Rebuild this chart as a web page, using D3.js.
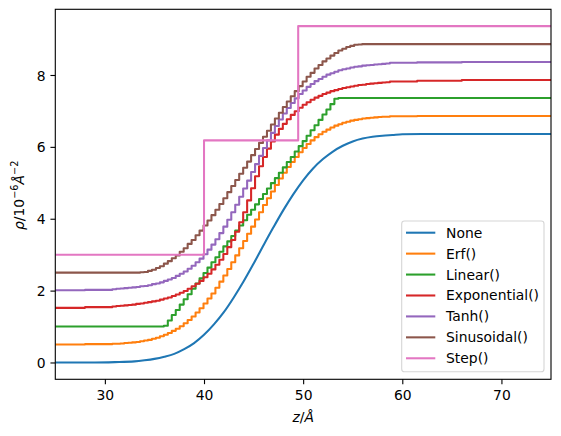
<!DOCTYPE html>
<html>
<head>
<meta charset="utf-8">
<script src="https://cdn.jsdelivr.net/npm/d3@7"></script>
<style>
  html, body { margin: 0; padding: 0; background: #ffffff; }
  svg { display: block; font-family: "DejaVu Sans", sans-serif; }
</style>
</head>
<body>
<svg id="chart" width="561" height="436"></svg>
<script>
// ---------------- DATA ----------------
const seriesLabels = ["None", "Erf()", "Linear()", "Exponential()", "Tanh()", "Sinusoidal()", "Step()"];
const seriesColors = ["#1f77b4", "#ff7f0e", "#2ca02c", "#d62728", "#9467bd", "#8c564b", "#e377c2"];
const offsets = [0, 0.5, 1.0, 1.5, 2.0, 2.5, 3.0];

const xTicks = [30, 40, 50, 60, 70];
const yTicks = [0, 2, 4, 6, 8];

// smooth profile (no interface model)
const noneZ = [25, 27, 29, 31, 33, 34, 35, 36, 37, 38, 39, 40, 41, 42, 43, 44, 45, 46, 47, 48, 49, 50,
  51, 52, 53, 54, 55, 56, 57, 58, 59, 60, 62, 65, 70, 75];
const noneRho = [0, 0, 0, 0.01, 0.03, 0.06, 0.10, 0.16, 0.24, 0.37, 0.54, 0.77, 1.06, 1.40, 1.81, 2.26, 2.75, 3.26,
  3.76, 4.24, 4.68, 5.07, 5.40, 5.66, 5.87, 6.03, 6.15, 6.23, 6.28, 6.31, 6.33, 6.35, 6.36, 6.36, 6.36, 6.36];

// left edges of the micro-slabs (shared by the stepped profiles)
const zEdges = [25, 28,
  30.75, 31.15, 31.55, 31.95, 32.35, 32.75, 33.15, 33.55, 33.95, 34.35, 34.75, 35.15, 35.55, 35.95, 36.35,
  36.75, 37.15, 37.55, 37.95, 38.35, 38.75, 39.15, 39.55, 39.95, 40.35, 40.75, 41.15, 41.55, 41.95, 42.35,
  42.75, 43.15, 43.55, 43.95, 44.35,
  44.75, 45.15, 45.55, 45.95, 46.35, 46.75, 47.15, 47.55, 47.95, 48.35, 48.75, 49.15, 49.55, 49.95, 50.35,
  50.75, 51.15, 51.55, 51.95, 52.35, 52.75, 53.15, 53.55, 53.95, 54.35, 54.75, 55.15, 55.55, 55.95, 56.35,
  56.75, 57.15, 57.55, 57.95, 58.35,
  58.75, 61.5, 66, 75];

const erfRho = [0.00, 0.01,
  0.02, 0.02, 0.03, 0.04, 0.05, 0.06, 0.07, 0.09, 0.11, 0.13, 0.16, 0.19, 0.23, 0.27, 0.32,
  0.38, 0.44, 0.51, 0.59, 0.68, 0.78, 0.89, 1.01, 1.14, 1.28, 1.42, 1.58, 1.75, 1.92, 2.10,
  2.29, 2.48, 2.68, 2.88, 3.08,
  3.28, 3.48, 3.68, 3.88, 4.07, 4.26, 4.44, 4.62, 4.78, 4.94, 5.08, 5.22, 5.35, 5.47, 5.58,
  5.68, 5.77, 5.85, 5.92, 5.98, 6.04, 6.09, 6.13, 6.17, 6.20, 6.23, 6.25, 6.27, 6.29, 6.30,
  6.31, 6.32, 6.33, 6.34, 6.34,
  6.35, 6.36, 6.36, 6.36];

const linearRho = [0, 0,
  0, 0, 0, 0, 0, 0, 0, 0, 0, 0, 0, 0, 0, 0.02, 0.17,
  0.32, 0.46, 0.61, 0.76, 0.90, 1.05, 1.20, 1.34, 1.49, 1.64, 1.79, 1.93, 2.08, 2.23, 2.37,
  2.52, 2.67, 2.81, 2.96, 3.11,
  3.25, 3.40, 3.55, 3.69, 3.84, 3.99, 4.13, 4.28, 4.43, 4.58, 4.72, 4.87, 5.02, 5.16, 5.31,
  5.46, 5.60, 5.75, 5.90, 6.04, 6.19, 6.34, 6.36, 6.36, 6.36, 6.36, 6.36, 6.36, 6.36, 6.36,
  6.36, 6.36, 6.36, 6.36, 6.36,
  6.36, 6.36, 6.36, 6.36];

const expRho = [0.02, 0.04,
  0.06, 0.07, 0.08, 0.09, 0.10, 0.11, 0.13, 0.14, 0.16, 0.18, 0.20, 0.22, 0.25, 0.28, 0.31,
  0.35, 0.39, 0.44, 0.49, 0.55, 0.62, 0.69, 0.77, 0.87, 0.97, 1.09, 1.22, 1.36, 1.52, 1.71,
  1.91, 2.14, 2.40, 2.68, 3.01,
  3.35, 3.68, 3.96, 4.22, 4.45, 4.65, 4.84, 5.00, 5.14, 5.27, 5.39, 5.49, 5.59, 5.67, 5.74,
  5.81, 5.87, 5.92, 5.97, 6.01, 6.05, 6.08, 6.11, 6.14, 6.16, 6.18, 6.20, 6.22, 6.23, 6.25,
  6.26, 6.27, 6.28, 6.29, 6.30,
  6.32, 6.34, 6.36, 6.36];

const tanhRho = [0.01, 0.02,
  0.04, 0.05, 0.06, 0.07, 0.08, 0.09, 0.10, 0.12, 0.13, 0.15, 0.18, 0.20, 0.23, 0.27, 0.31,
  0.35, 0.41, 0.47, 0.53, 0.61, 0.69, 0.79, 0.89, 1.01, 1.14, 1.28, 1.43, 1.60, 1.78, 1.97,
  2.18, 2.39, 2.61, 2.84, 3.06,
  3.30, 3.52, 3.75, 3.97, 4.18, 4.39, 4.58, 4.76, 4.93, 5.08, 5.22, 5.35, 5.47, 5.57, 5.67,
  5.75, 5.83, 5.89, 5.95, 6.01, 6.05, 6.09, 6.13, 6.16, 6.18, 6.21, 6.23, 6.24, 6.26, 6.27,
  6.28, 6.29, 6.30, 6.31, 6.32,
  6.34, 6.35, 6.36, 6.36];

const sinRho = [0, 0,
  0, 0, 0, 0, 0, 0, 0, 0.01, 0.02, 0.05, 0.08, 0.13, 0.18, 0.25, 0.32,
  0.40, 0.48, 0.58, 0.68, 0.80, 0.91, 1.04, 1.17, 1.31, 1.45, 1.60, 1.75, 1.91, 2.07, 2.24,
  2.41, 2.58, 2.75, 2.92, 3.09,
  3.27, 3.44, 3.61, 3.78, 3.95, 4.12, 4.29, 4.45, 4.61, 4.76, 4.91, 5.05, 5.19, 5.32, 5.45,
  5.56, 5.68, 5.78, 5.88, 5.96, 6.04, 6.11, 6.18, 6.23, 6.28, 6.31, 6.34, 6.35, 6.36, 6.36,
  6.36, 6.36, 6.36, 6.36, 6.36,
  6.36, 6.36, 6.36, 6.36];

const stepZ = [25, 40, 49.5, 75];
const stepRho = [0, 3.18, 6.36, 6.36];

// ---------------- LAYOUT ----------------
const W = 561, H = 436;
const plot = { left: 55.3, right: 551, top: 9.3, bottom: 379.3 };
const FS = 13.9;           // 10 pt at 100 dpi
const tickLen = 4.86, tickPad = 4.86;

const svg = d3.select("#chart");

const x = d3.scaleLinear().domain([25, 75]).range([plot.left, plot.right]);
const y = d3.scaleLinear().domain([-0.468, 9.828]).range([plot.bottom, plot.top]);

svg.append("defs").append("clipPath").attr("id", "clip")
  .append("rect")
  .attr("x", plot.left).attr("y", plot.top)
  .attr("width", plot.right - plot.left).attr("height", plot.bottom - plot.top);

const profiles = [
  { z: noneZ, rho: noneRho, curve: d3.curveMonotoneX },
  { z: zEdges, rho: erfRho, curve: d3.curveStepAfter },
  { z: zEdges, rho: linearRho, curve: d3.curveStepAfter },
  { z: zEdges, rho: expRho, curve: d3.curveStepAfter },
  { z: zEdges, rho: tanhRho, curve: d3.curveStepAfter },
  { z: zEdges, rho: sinRho, curve: d3.curveStepAfter },
  { z: stepZ, rho: stepRho, curve: d3.curveStepAfter }
];

const gLines = svg.append("g").attr("clip-path", "url(#clip)");
profiles.forEach((p, i) => {
  const pts = p.z.map((zv, j) => [zv, p.rho[j] + offsets[i]]);
  const line = d3.line().x(d => x(d[0])).y(d => y(d[1])).curve(p.curve);
  gLines.append("path")
    .attr("d", line(pts))
    .attr("fill", "none")
    .attr("stroke", seriesColors[i])
    .attr("stroke-width", 2.08)
    .attr("stroke-linejoin", "round")
    .attr("stroke-linecap", "butt");
});

// ---------------- AXES ----------------
const xAxis = d3.axisBottom(x).tickValues(xTicks).tickSize(tickLen).tickPadding(tickPad).tickFormat(d3.format("d"));
const yAxis = d3.axisLeft(y).tickValues(yTicks).tickSize(tickLen).tickPadding(tickPad).tickFormat(d3.format("d"));

const gx = svg.append("g").attr("transform", `translate(0,${plot.bottom})`).call(xAxis);
const gy = svg.append("g").attr("transform", `translate(${plot.left},0)`).call(yAxis);

[gx, gy].forEach(g => {
  g.select(".domain").remove();
  g.selectAll(".tick line").attr("stroke", "#000").attr("stroke-width", 1.11);
  g.selectAll(".tick text").attr("fill", "#000").attr("font-size", FS)
    .attr("font-family", "DejaVu Sans, sans-serif");
});
gx.selectAll(".tick text").attr("dy", "0.77em");
gy.selectAll(".tick text").attr("dy", "0.36em");

// frame
svg.append("rect")
  .attr("x", plot.left).attr("y", plot.top)
  .attr("width", plot.right - plot.left).attr("height", plot.bottom - plot.top)
  .attr("fill", "none").attr("stroke", "#000").attr("stroke-width", 1.11);

// axis labels
const xl = svg.append("text")
  .attr("x", (plot.left + plot.right) / 2).attr("y", 421.5)
  .attr("text-anchor", "middle").attr("font-size", FS).attr("fill", "#000");
xl.append("tspan").attr("font-style", "italic").text("z");
xl.append("tspan").text("/");
xl.append("tspan").attr("font-style", "italic").text("Å");

const yl = svg.append("text")
  .attr("transform", `translate(23.5,${(plot.top + plot.bottom) / 2 + 1}) rotate(-90)`)
  .attr("text-anchor", "middle").attr("font-size", FS).attr("fill", "#000");
yl.append("tspan").attr("font-style", "italic").text("ρ");
yl.append("tspan").text("/10");
yl.append("tspan").attr("font-size", FS * 0.7).attr("dy", -5.6).text("−6");
yl.append("tspan").attr("font-style", "italic").attr("dy", 5.6).text("Å");
yl.append("tspan").attr("font-size", FS * 0.7).attr("dy", -5.6).text("−2");

// ---------------- LEGEND ----------------
const leg = { left: 401.7, top: 221, width: 142.3, height: 150.7, firstRow: 232.7, rowH: 20.93 };
const gLeg = svg.append("g");
gLeg.append("rect")
  .attr("x", leg.left).attr("y", leg.top)
  .attr("width", leg.width).attr("height", leg.height)
  .attr("rx", 2.8).attr("ry", 2.8)
  .attr("fill", "#ffffff").attr("fill-opacity", 0.8)
  .attr("stroke", "#d6d6d6").attr("stroke-width", 1.11);

seriesLabels.forEach((lab, i) => {
  const ry = leg.firstRow + i * leg.rowH;
  gLeg.append("line")
    .attr("x1", 406).attr("x2", 435.3).attr("y1", ry).attr("y2", ry)
    .attr("stroke", seriesColors[i]).attr("stroke-width", 2.08);
  gLeg.append("text")
    .attr("x", 446).attr("y", ry).attr("dy", "0.36em")
    .attr("font-size", FS).attr("fill", "#000").text(lab);
});
</script>
</body>
</html>
